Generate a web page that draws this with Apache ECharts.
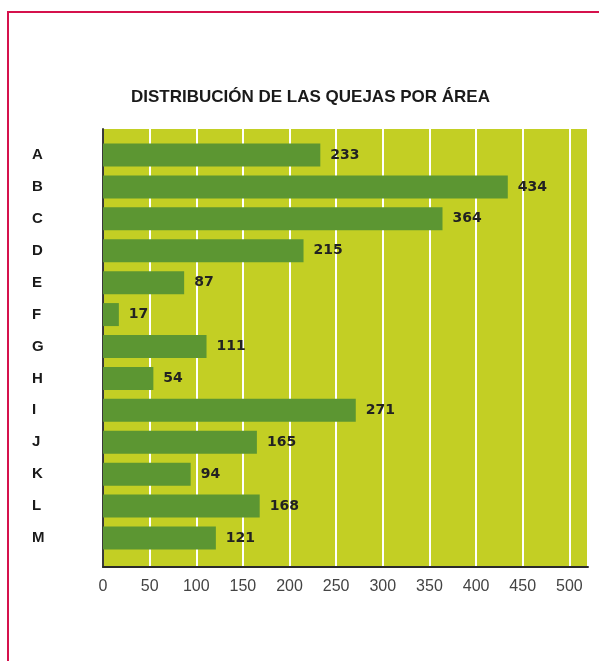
<!DOCTYPE html>
<html>
<head>
<meta charset="utf-8">
<script src="https://cdn.jsdelivr.net/npm/echarts@6/dist/echarts.min.js"></script>
<style>html,body{margin:0;padding:0;background:#fff}#c{width:599px;height:661px}</style>
</head>
<body>
<div id="c"></div>
<script>
const titleText = 'DISTRIBUCIÓN DE LAS QUEJAS POR ÁREA';
const categories = ['A','B','C','D','E','F','G','H','I','J','K','L','M'];
const values = [233,434,364,215,87,17,111,54,271,165,94,168,121];
const xMin = 0, xMax = 520, xInterval = 50;

const chart = echarts.init(document.getElementById('c'), null, {renderer:'canvas'});
chart.setOption({
  animation:false,
  backgroundColor:'#ffffff',
  title:{
    text:titleText, left:126, top:84,
    textStyle:{fontFamily:'Liberation Sans Narrow, Liberation Sans, sans-serif', fontWeight:'bold', fontSize:17, color:'#1a1a1a'}
  },
  graphic:[{
    type:'rect', shape:{x:8,y:12,width:620,height:700},
    style:{fill:'none', stroke:'#d5114c', lineWidth:2}, silent:true
  }],
  grid:[
    {left:103,right:11,top:129,bottom:94,show:true,backgroundColor:'#c3cf24',borderWidth:0},
    {left:103,right:11,top:139,bottom:107,show:false}
  ],
  xAxis:[{
    gridIndex:0, type:'value', min:xMin, max:xMax, interval:xInterval,
    axisLine:{show:true, onZero:false, lineStyle:{color:'#2a2a2a', width:2}},
    axisTick:{show:false},
    splitLine:{show:true, lineStyle:{color:'#ffffff', width:2}},
    axisLabel:{
      color:'#444', fontSize:16, fontFamily:'Liberation Sans, Arial, sans-serif', margin:12,
      formatter:v => (v % 50 === 0 ? String(v) : '')
    }
  },{
    gridIndex:1, type:'value', min:xMin, max:xMax, interval:xInterval, show:false
  }],
  yAxis:[{
    gridIndex:0, type:'value', min:0, max:1,
    axisLine:{show:true, lineStyle:{color:'#3a3a3a', width:2}},
    axisTick:{show:false}, axisLabel:{show:false}, splitLine:{show:false}
  },{
    gridIndex:1, type:'category', data:categories, inverse:true,
    axisLine:{show:false},
    axisTick:{show:false},
    axisLabel:{color:'#1a1a1a', fontWeight:'bold', fontSize:15, fontFamily:'Liberation Sans, Arial, sans-serif', align:'left', margin:71}
  }],
  series:[{
    type:'bar', xAxisIndex:1, yAxisIndex:1, data:values, barWidth:23,
    itemStyle:{color:'#5c9632'},
    label:{show:true, position:'right', distance:10, color:'#222', fontWeight:'bold', fontSize:14, fontFamily:'DejaVu Sans, Liberation Sans, sans-serif'}
  }]
});
</script>
</body>
</html>
